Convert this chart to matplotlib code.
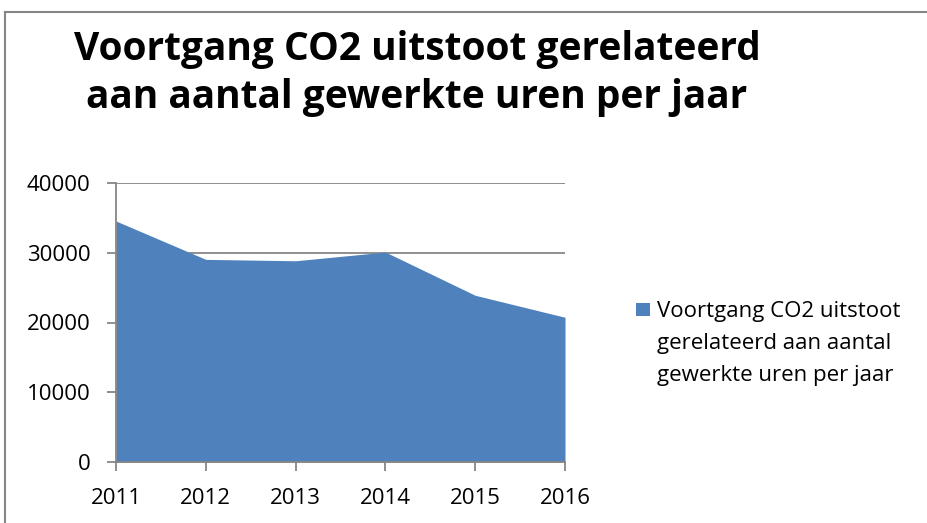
import matplotlib
matplotlib.use("Agg")
import matplotlib.pyplot as plt
from matplotlib.lines import Line2D
from matplotlib.patches import Rectangle

years = [2011, 2012, 2013, 2014, 2015, 2016]
uitstoot = [34550, 29050, 28850, 30100, 23900, 20750]
y_ticks = [0, 10000, 20000, 30000, 40000]
title_lines = ["Voortgang CO2 uitstoot gerelateerd",
               "aan aantal gewerkte uren per jaar"]
legend_lines = ["Voortgang CO2 uitstoot",
                "gerelateerd aan aantal",
                "gewerkte uren per jaar"]

W, H = 928, 523
plt.rcParams['font.family'] = ['Open Sans', 'DejaVu Sans']

fig = plt.figure(figsize=(W / 100, H / 100), dpi=100)
ax = fig.add_axes([116 / W, 61 / H, 449 / W, 279 / H])

area = ax.fill_between(years, uitstoot, 0, color="#4F81BD", linewidth=0, zorder=2)
ax.set_xlim(years[0], years[-1])
ax.set_ylim(0, 40000)
ax.set_yticks(y_ticks)
ax.set_xticks(years)
ax.grid(axis="y", color="#868686", linewidth=1.3, zorder=1)

for side in ["top", "right"]:
    ax.spines[side].set_visible(False)
for side in ["left", "bottom"]:
    ax.spines[side].set_color("#868686")
    ax.spines[side].set_linewidth(1.3)
    ax.spines[side].set_zorder(3)
ax.tick_params(axis="both", colors="#868686", labelcolor="black",
               labelsize=16, width=1.3, length=6.5, pad=12)

# title, two centered lines
fig.text(417 / W, 1 - 60 / H, title_lines[0], ha="center", va="baseline",
         fontsize=28, fontweight="bold")
fig.text(417 / W, 1 - 108 / H, title_lines[1], ha="center", va="baseline",
         fontsize=28, fontweight="bold")

# legend: marker next to first line, text wraps below
fig.add_artist(Rectangle((636 / W, 1 - 316 / H), 14 / W, 13 / H,
                         transform=fig.transFigure,
                         facecolor=area.get_facecolor()[0], edgecolor="none"))
for i, line in enumerate(legend_lines):
    fig.text(657 / W, 1 - (317 + 32 * i) / H, line, ha="left", va="baseline",
             fontsize=16)

# chart border (only top and left visible)
fig.add_artist(Line2D([5 / W, 1], [1 - 12 / H] * 2, color="#868686",
                      linewidth=1.5, transform=fig.transFigure))
fig.add_artist(Line2D([5 / W] * 2, [0, 1 - 12 / H], color="#868686",
                      linewidth=1.5, transform=fig.transFigure))

fig.savefig("out.png", dpi=100)
